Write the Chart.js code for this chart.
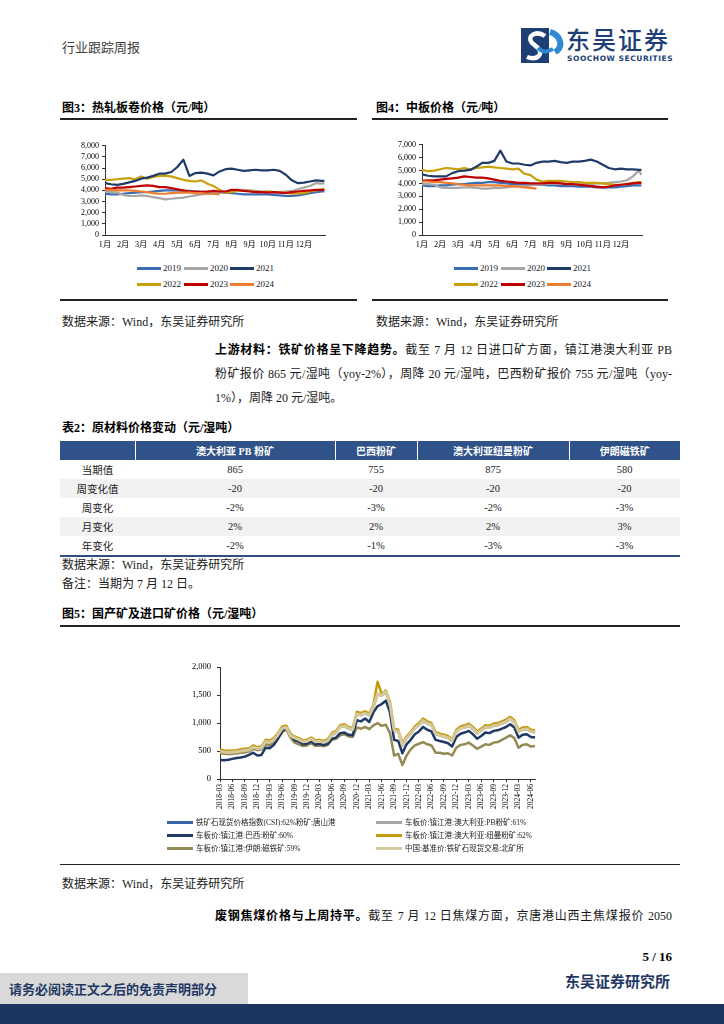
<!DOCTYPE html>
<html lang="zh-CN">
<head>
<meta charset="utf-8">
<script src="https://cdn.jsdelivr.net/npm/chart.js@4.4.0/dist/chart.umd.min.js"></script>
<style>
  html,body{margin:0;padding:0;background:#fff;}
  #page{position:relative;width:724px;height:1024px;overflow:hidden;background:#fff;
        font-family:'Liberation Serif','Noto Sans CJK SC',serif;color:#1a1a1a;}
  .abs{position:absolute;white-space:nowrap;}
  .t12{font-size:12px;line-height:16px;}
  .ttl{font-size:12px;line-height:16px;font-weight:700;color:#000;font-family:'Liberation Serif','Noto Sans CJK SC',serif;}
  .rule{position:absolute;height:1.5px;background:#222;}
  .para{position:absolute;left:215px;width:457px;font-size:12px;line-height:20px;white-space:nowrap;}
  .para .ln{display:block;text-align:justify;text-align-last:justify;}
  .para .ln.last{text-align-last:left;}
  .para b{font-weight:700;color:#000;}
  .box{position:absolute;}
  .lg{position:absolute;font-size:9px;line-height:12px;white-space:nowrap;}
  .lg i{position:absolute;top:4.5px;width:24px;height:3px;}
  .lg span{position:absolute;top:0;}
  .lg5{position:absolute;font-size:7.5px;line-height:11px;white-space:nowrap;color:#222;}
  .lg5 i{position:absolute;top:4px;width:26px;height:3px;left:0;}
  .lg5 span{position:absolute;left:29px;top:0;}
  table.t2{position:absolute;left:60px;top:441px;width:620px;border-collapse:collapse;table-layout:fixed;
           font-size:10.5px;font-family:'Liberation Serif','Noto Sans CJK SC',serif;}
  table.t2 th{background:#2f5288;color:#fff;font-weight:700;height:19px;padding:0;text-align:center;font-size:10px;
              border-left:1px solid #fff;}
  table.t2 th:first-child{border-left:none;}
  table.t2 td{height:19px;padding:0;text-align:center;color:#222;}
  table.t2 tr.g td{background:#f2f2f2;}
  table.t2 tr.lastrow td{border-bottom:2px solid #2f4f7f;}
</style>
</head>
<body>
<div id="page">

  <!-- header -->
  <div class="abs" style="left:62px;top:38px;font-size:13px;line-height:18px;color:#404040;font-family:'Noto Sans CJK SC',sans-serif;">行业跟踪周报</div>
  <svg class="abs" style="left:519px;top:27px" width="46" height="37" viewBox="0 0 46 37">
    <rect x="2" y="1" width="28" height="35" fill="#1d3f76"/>
    <path d="M31 5 C 42 8, 45 20, 36 25" stroke="#2f8ad3" stroke-width="6" fill="none"/>
    <path d="M26 9 C 17 3, 7 9, 13 16 L 19 21 C 25 27, 18 34, 8 30" stroke="#ffffff" stroke-width="4.5" fill="none"/>
    <path d="M19 21 C 25 27, 30 24, 34 22" stroke="#2f8ad3" stroke-width="4" fill="none"/>
  </svg>
  <div class="abs" style="left:566px;top:27px;font-size:24px;line-height:24px;letter-spacing:2px;color:#1d3f76;font-family:'Noto Sans CJK SC',sans-serif;font-weight:500;">东吴证券</div>
  <div class="abs" style="left:567px;top:55px;font-size:7.5px;line-height:8px;letter-spacing:0.55px;color:#1d3f76;font-family:'DejaVu Sans',sans-serif;font-weight:700;">SOOCHOW SECURITIES</div>

  <!-- figure 3 / 4 titles -->
  <div class="abs ttl" style="left:62px;top:100px;">图3：热轧板卷价格（元/吨）</div>
  <div class="abs ttl" style="left:376px;top:100px;">图4：中板价格（元/吨）</div>
  <div class="rule" style="left:60px;top:118px;width:297px;"></div>
  <div class="rule" style="left:372px;top:118px;width:296px;"></div>

  <div class="box" style="left:62px;top:138px;width:268px;height:117px;"><canvas id="c3"></canvas></div>
  <div class="box" style="left:378px;top:137px;width:269px;height:118px;"><canvas id="c4"></canvas></div>

  <!-- legends fig3 -->
  <div class="lg" style="left:137px;top:262px;"><i style="left:0;background:#3b6db3"></i><span style="left:26px">2019</span></div>
  <div class="lg" style="left:184px;top:262px;"><i style="left:0;background:#a6a6a6"></i><span style="left:26px">2020</span></div>
  <div class="lg" style="left:230px;top:262px;"><i style="left:0;background:#1f3c68"></i><span style="left:26px">2021</span></div>
  <div class="lg" style="left:137px;top:278px;"><i style="left:0;background:#c8a00c"></i><span style="left:26px">2022</span></div>
  <div class="lg" style="left:184px;top:278px;"><i style="left:0;background:#c00000"></i><span style="left:26px">2023</span></div>
  <div class="lg" style="left:230px;top:278px;"><i style="left:0;background:#ed7d31"></i><span style="left:26px">2024</span></div>
  <!-- legends fig4 -->
  <div class="lg" style="left:454px;top:262px;"><i style="left:0;background:#3b6db3"></i><span style="left:26px">2019</span></div>
  <div class="lg" style="left:501px;top:262px;"><i style="left:0;background:#a6a6a6"></i><span style="left:26px">2020</span></div>
  <div class="lg" style="left:547px;top:262px;"><i style="left:0;background:#1f3c68"></i><span style="left:26px">2021</span></div>
  <div class="lg" style="left:454px;top:278px;"><i style="left:0;background:#c8a00c"></i><span style="left:26px">2022</span></div>
  <div class="lg" style="left:501px;top:278px;"><i style="left:0;background:#c00000"></i><span style="left:26px">2023</span></div>
  <div class="lg" style="left:547px;top:278px;"><i style="left:0;background:#ed7d31"></i><span style="left:26px">2024</span></div>

  <div class="rule" style="left:60px;top:299px;width:297px;"></div>
  <div class="rule" style="left:372px;top:299px;width:296px;"></div>
  <div class="abs t12" style="left:62px;top:314px;">数据来源：Wind，东吴证券研究所</div>
  <div class="abs t12" style="left:376px;top:314px;">数据来源：Wind，东吴证券研究所</div>

  <!-- paragraph 1 -->
  <div class="para" style="top:340px;">
    <span class="ln" style="height:24px;line-height:20px;"><b>上游材料：铁矿价格呈下降趋势。</b>截至 7 月 12 日进口矿方面，镇江港澳大利亚 PB</span>
    <span class="ln" style="height:24px;line-height:20px;">粉矿报价 865 元/湿吨（yoy-2%），周降 20 元/湿吨，巴西粉矿报价 755 元/湿吨（yoy-</span>
    <span class="ln last" style="height:24px;line-height:20px;">1%），周降 20 元/湿吨。</span>
  </div>

  <!-- table 2 -->
  <div class="abs ttl" style="left:62px;top:420px;">表2：原材料价格变动（元/湿吨）</div>
  <table class="t2">
    <colgroup><col style="width:75px"><col style="width:200px"><col style="width:82px"><col style="width:152px"><col style="width:111px"></colgroup>
    <tr><th></th><th>澳大利亚 PB 粉矿</th><th>巴西粉矿</th><th>澳大利亚纽曼粉矿</th><th>伊朗磁铁矿</th></tr>
    <tr><td>当期值</td><td>865</td><td>755</td><td>875</td><td>580</td></tr>
    <tr class="g"><td>周变化值</td><td>-20</td><td>-20</td><td>-20</td><td>-20</td></tr>
    <tr><td>周变化</td><td>-2%</td><td>-3%</td><td>-2%</td><td>-3%</td></tr>
    <tr class="g"><td>月变化</td><td>2%</td><td>2%</td><td>2%</td><td>3%</td></tr>
    <tr class="lastrow"><td>年变化</td><td>-2%</td><td>-1%</td><td>-3%</td><td>-3%</td></tr>
  </table>
  <div class="abs t12" style="left:62px;top:557px;">数据来源：Wind，东吴证券研究所</div>
  <div class="abs t12" style="left:62px;top:576px;">备注：当期为 7 月 12 日。</div>

  <!-- figure 5 -->
  <div class="abs ttl" style="left:62px;top:606px;">图5：国产矿及进口矿价格（元/湿吨）</div>
  <div class="rule" style="left:60px;top:625px;width:620px;"></div>
  <div class="box" style="left:165px;top:656px;width:377px;height:165px;"><canvas id="c5"></canvas></div>

  <div class="lg5" style="left:167px;top:817px;"><i style="background:#3a64a8"></i><span>铁矿石现货价格指数(CSI):62%粉矿:唐山港</span></div>
  <div class="lg5" style="left:376px;top:817px;"><i style="background:#a6a6a6"></i><span>车板价:镇江港:澳大利亚:PB粉矿:61%</span></div>
  <div class="lg5" style="left:167px;top:830px;"><i style="background:#1f3864"></i><span>车板价:镇江港:巴西:粉矿:60%</span></div>
  <div class="lg5" style="left:376px;top:830px;"><i style="background:#c59a0b"></i><span>车板价:镇江港:澳大利亚:纽曼粉矿:62%</span></div>
  <div class="lg5" style="left:167px;top:843px;"><i style="background:#948a54"></i><span>车板价:镇江港:伊朗:磁铁矿:59%</span></div>
  <div class="lg5" style="left:376px;top:843px;"><i style="background:#d4c99c"></i><span>中国:基准价:铁矿石现货交易:北矿所</span></div>

  <div class="rule" style="left:60px;top:864px;width:620px;height:1px;"></div>
  <div class="abs t12" style="left:62px;top:876px;">数据来源：Wind，东吴证券研究所</div>

  <!-- paragraph 2 -->
  <div class="para" style="top:906px;">
    <span class="ln" style="height:24px;line-height:20px;"><b>废钢焦煤价格与上周持平。</b>截至 7 月 12 日焦煤方面，京唐港山西主焦煤报价 2050</span>
  </div>

  <!-- footer -->
  <div class="abs" style="right:52px;top:948px;font-size:13px;line-height:18px;font-weight:700;color:#000;">5 / 16</div>
  <div class="abs" style="left:0;top:973px;width:248px;height:31px;background:#d9d9d9;"></div>
  <div class="abs" style="left:9px;top:980px;font-size:13px;line-height:18px;font-weight:700;color:#1f3864;font-family:'Noto Sans CJK SC',sans-serif;">请务必阅读正文之后的免责声明部分</div>
  <div class="abs" style="left:565px;top:971px;font-size:15px;line-height:20px;font-weight:700;color:#1f3864;font-family:'Noto Sans CJK SC',sans-serif;">东吴证券研究所</div>
  <div class="abs" style="left:0;top:1004px;width:724px;height:20px;background:#1c355e;"></div>
</div>

<script>
// ---------- Figure 3 / 4: day-of-year grid and month tick labels ----------
const monthLabels = ['1月','2月','3月','4月','5月','6月','7月','8月','9月','10月','11月','12月'];
const yearDays = [0,10,20,30,40,50,60,70,80,90,100,110,120,130,140,150,160,170,180,190,200,210,220,230,240,250,260,270,280,290,300,310,320,330,340,350,360,364];

// 热轧板卷价格 (元/吨)
const hrc2019 = [3700,3650,3650,3700,3750,3800,3850,3850,3900,3950,4000,4000,4000,3950,3950,3900,3900,3850,3850,3850,3800,3750,3700,3650,3650,3650,3650,3650,3600,3550,3500,3500,3550,3650,3750,3850,3900,3900];
const hrc2020 = [3900,3850,3800,3600,3500,3500,3550,3500,3400,3300,3200,3250,3300,3350,3450,3550,3650,3700,3750,3800,3850,3950,4000,4050,4000,3950,3900,3900,3850,3850,3900,3950,4100,4250,4400,4650,4600,4650];
const hrc2021 = [4650,4550,4500,4580,4720,4850,5050,5150,5300,5500,5500,5650,6100,6750,5300,5550,5600,5500,5350,5700,5900,5950,5850,5750,5800,5850,5800,5800,5850,5750,5400,4900,4650,4700,4800,4900,4850,4850];
const hrc2022 = [4950,4950,5000,5050,5100,5000,5250,5050,5200,5300,5300,5250,5100,4950,4850,4800,4900,4600,4400,4050,3800,3850,4000,3950,3950,3900,3850,3900,3850,3850,3800,3700,3700,3750,3900,4000,4100,4150];
const hrc2023 = [4200,4150,4250,4250,4300,4350,4400,4450,4400,4300,4300,4200,4100,4000,3900,3900,3850,3900,3950,3900,3900,4050,4050,3950,3900,3850,3850,3800,3850,3800,3750,3850,3900,3950,4000,4050,4050,4050];
const hrc2024 = [4050,4050,4000,4000,4000,3950,3900,3850,3750,3700,3700,3750,3800,3800,3800,3750,3750,3700,3700,3650];

// 中板价格 (元/吨)
const plate2019 = [3850,3800,3800,3850,3850,3900,3950,3950,4000,4050,4050,4100,4100,4050,4000,3950,3950,3900,3900,3900,3900,3850,3850,3800,3800,3800,3750,3750,3750,3700,3700,3700,3700,3750,3800,3850,3850,3850];
const plate2020 = [3950,3950,3900,3700,3650,3650,3650,3700,3700,3650,3600,3600,3650,3650,3700,3750,3800,3800,3850,3900,3950,4000,4000,4000,3950,3950,3950,3950,3950,4000,4000,4050,4100,4150,4250,4550,5000,4650];
const plate2021 = [4700,4600,4550,4550,4550,4800,4950,5000,5050,5300,5600,5600,5750,6550,5700,5550,5550,5450,5400,5600,5700,5700,5750,5650,5600,5700,5700,5750,5850,5700,5450,5200,5100,5150,5100,5100,5050,5050];
const plate2022 = [5050,4950,5000,5100,5200,5150,5100,5200,5100,5200,5250,5300,5250,5200,5150,5100,5150,4750,4650,4300,4150,4200,4200,4200,4150,4100,4100,4050,4050,4050,4000,3950,3900,3900,3950,4050,4100,4100];
const plate2023 = [4200,4250,4250,4300,4350,4400,4450,4550,4500,4450,4450,4400,4300,4200,4150,4100,4050,4050,4000,4000,4000,4050,4050,4000,3950,3950,3900,3850,3800,3750,3700,3750,3850,3900,3950,4000,4050,4050];
const plate2024 = [4150,4150,4100,4100,4050,4000,3950,3900,3850,3850,3850,3850,3850,3850,3800,3800,3750,3700,3650,3600];

const yearNames = ['2019','2020','2021','2022','2023','2024'];
const yearColors = ['#3b6db3','#a6a6a6','#1f3c68','#c8a00c','#c00000','#ed7d31'];

// ---------- Figure 5: monthly, 2018-03 .. 2024-07 ----------
const oreLabels = [
 '2018-03','2018-04','2018-05','2018-06','2018-07','2018-08','2018-09','2018-10','2018-11','2018-12',
 '2019-01','2019-02','2019-03','2019-04','2019-05','2019-06','2019-07','2019-08','2019-09','2019-10','2019-11','2019-12',
 '2020-01','2020-02','2020-03','2020-04','2020-05','2020-06','2020-07','2020-08','2020-09','2020-10','2020-11','2020-12',
 '2021-01','2021-02','2021-03','2021-04','2021-05','2021-06','2021-07','2021-08','2021-09','2021-10','2021-11','2021-12',
 '2022-01','2022-02','2022-03','2022-04','2022-05','2022-06','2022-07','2022-08','2022-09','2022-10','2022-11','2022-12',
 '2023-01','2023-02','2023-03','2023-04','2023-05','2023-06','2023-07','2023-08','2023-09','2023-10','2023-11','2023-12',
 '2024-01','2024-02','2024-03','2024-04','2024-05','2024-06','2024-07'];

const oreCsi62 = [490,476,470,475,480,495,505,515,562,540,
 550,665,655,695,785,900,915,770,730,700,660,670,
 710,660,670,650,680,785,825,925,945,900,880,1155,
 1140,1170,1135,1280,1510,1495,1550,1335,865,845,595,725,
 805,900,960,1040,990,960,805,775,755,735,675,845,
 900,920,950,895,815,865,920,915,950,960,990,1020,
 1070,1010,845,880,890,845,835];
const orePb61 = [485,470,468,472,478,492,502,512,560,538,
 548,662,652,692,782,898,912,768,728,698,658,668,
 708,658,668,648,678,782,822,922,942,898,878,1150,
 1138,1168,1132,1278,1500,1490,1545,1332,860,842,592,722,
 802,898,958,1038,988,958,802,772,752,732,672,842,
 898,918,948,892,812,862,918,912,948,958,988,1018,
 1068,1008,842,878,888,842,832];
const oreBrazil60 = [340,335,345,360,375,385,400,430,470,420,
 430,560,550,610,720,850,930,810,690,670,620,630,
 670,615,630,605,630,720,740,820,830,790,780,1050,
 1030,1080,1020,1190,1300,1340,1400,1190,700,680,460,620,
 700,800,850,930,880,850,700,680,660,640,580,750,
 810,830,860,800,720,770,830,820,860,870,900,930,
 980,920,740,790,800,750,740];
const oreNewman62 = [530,510,505,510,515,530,540,550,600,570,
 580,700,690,730,820,940,950,800,760,730,690,700,
 740,690,700,680,710,820,860,960,980,930,910,1200,
 1180,1210,1170,1320,1740,1520,1580,1380,900,880,640,760,
 840,940,1000,1080,1030,1000,840,810,790,770,700,880,
 940,960,990,930,850,900,960,950,990,1000,1030,1060,
 1110,1050,880,920,930,880,870];
const oreIran59 = [465,450,445,450,455,470,480,490,540,515,
 530,620,600,640,730,840,880,740,650,620,590,600,
 640,590,600,585,610,700,720,780,800,760,750,920,
 900,930,890,960,1000,950,970,820,420,450,250,420,
 530,600,630,660,620,600,470,470,450,460,420,560,
 610,620,650,600,540,580,620,610,650,660,700,740,
 780,730,560,610,620,580,590];
const oreBkx = [495,480,475,480,485,500,510,520,570,545,
 555,670,660,700,790,905,920,775,735,705,665,675,
 715,665,675,655,685,790,830,930,950,905,885,1160,
 1145,1175,1140,1285,1520,1500,1555,1340,870,850,600,730,
 810,905,965,1045,995,965,810,780,760,740,680,850,
 905,925,955,900,820,870,925,920,955,965,995,1025,
 1075,1015,850,885,895,850,840];

// ---------- chart helpers ----------
Chart.defaults.font.family = "'Liberation Serif','Noto Sans CJK SC',serif";
Chart.defaults.color = '#000';
Chart.defaults.animation = false;

function xy(vals){ return vals.map((v,i)=>({x:yearDays[i], y:v})); }

function yearChart(id, series, yMax, yWidth){
  const ds = series.map((vals,i)=>({
    label: yearNames[i], data: xy(vals), borderColor: yearColors[i], backgroundColor: yearColors[i],
    borderWidth: 2.2, pointRadius: 0, tension: 0, order: 6 - i, borderJoinStyle:'round'
  }));
  ds[2].order = 0; // 2021 drawn on top
  new Chart(document.getElementById(id), {
    type: 'line',
    data: { datasets: ds },
    options: {
      responsive: true, maintainAspectRatio: false,
      layout: { padding: { top: 7, right: 5, left: 0, bottom: 0 } },
      plugins: { legend: { display: false }, tooltip: { enabled: false } },
      scales: {
        x: { type: 'linear', min: 0, max: 365,
             ticks: { stepSize: 30, autoSkip: false, maxRotation: 0, padding: 5,
                      font: { size: 8.2 },
                      callback: v => (v % 30 === 0 && v / 30 < 12) ? monthLabels[v / 30] : null },
             grid: { display: true, drawOnChartArea: false, drawTicks: false },
             border: { display: true, color: '#333', width: 1 },
             afterFit: s => { s.height = 20; } },
        y: { min: 0, max: yMax,
             ticks: { stepSize: 1000, autoSkip: false, padding: 3, font: { size: 8 } },
             grid: { display: true, drawOnChartArea: false, drawTicks: true, tickLength: 3, color: '#333' },
             border: { display: true, color: '#333', width: 1 },
             afterFit: s => { s.width = yWidth; } }
      }
    }
  });
}

yearChart('c3', [hrc2019, hrc2020, hrc2021, hrc2022, hrc2023, hrc2024], 8000, 43);
yearChart('c4', [plate2019, plate2020, plate2021, plate2022, plate2023, plate2024], 7000, 44);

new Chart(document.getElementById('c5'), {
  type: 'line',
  data: {
    labels: oreLabels,
    datasets: [
      { label: '铁矿石现货价格指数(CSI):62%粉矿:唐山港', data: oreCsi62, borderColor: '#3a64a8', borderWidth: 2, order: 6 },
      { label: '车板价:镇江港:澳大利亚:PB粉矿:61%', data: orePb61, borderColor: '#a6a6a6', borderWidth: 2, order: 5 },
      { label: '车板价:镇江港:巴西:粉矿:60%', data: oreBrazil60, borderColor: '#1f3864', borderWidth: 2.5, order: 3 },
      { label: '车板价:镇江港:澳大利亚:纽曼粉矿:62%', data: oreNewman62, borderColor: '#c59a0b', borderWidth: 2.5, order: 2 },
      { label: '车板价:镇江港:伊朗:磁铁矿:59%', data: oreIran59, borderColor: '#948a54', borderWidth: 2.5, order: 4 },
      { label: '中国:基准价:铁矿石现货交易:北矿所', data: oreBkx, borderColor: '#d4c99c', borderWidth: 3, order: 1 }
    ].map(d => Object.assign({ pointRadius: 0, tension: 0, borderJoinStyle: 'round' }, d))
  },
  options: {
    responsive: true, maintainAspectRatio: false,
    layout: { padding: { top: 7, right: 5, left: 0, bottom: 0 } },
    plugins: { legend: { display: false }, tooltip: { enabled: false } },
    scales: {
      x: { offset: false,
           ticks: { autoSkip: false, minRotation: 90, maxRotation: 90, padding: 2, font: { size: 7.5 },
                    callback: function(v, i){ return i % 3 === 0 ? this.getLabelForValue(v) : null; } },
           grid: { display: true, drawOnChartArea: false, drawTicks: true, tickLength: 3, color: '#333' },
           border: { display: true, color: '#333', width: 1 },
           afterFit: s => { s.height = 42; } },
      y: { min: 0, max: 2000,
           ticks: { stepSize: 500, autoSkip: false, padding: 6, font: { size: 8.5 } },
           grid: { display: true, drawOnChartArea: false, drawTicks: true, tickLength: 3, color: '#333' },
           border: { display: true, color: '#333', width: 1 },
           afterFit: s => { s.width = 55; } }
    }
  }
});
</script>
</body>
</html>
